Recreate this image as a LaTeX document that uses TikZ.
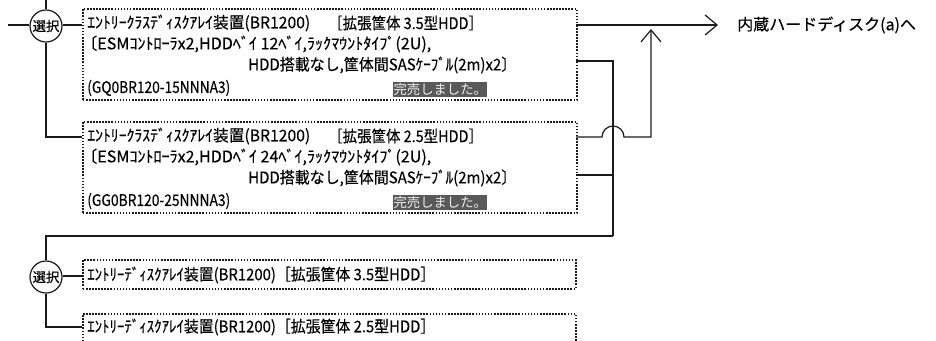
\documentclass[tikz,border=0pt]{standalone}
\usepackage{fontspec}
\usepackage{graphicx}
\setmainfont{Noto Sans CJK JP}
\newfontfamily\boxfont{Noto Sans CJK JP}[FakeBold=0.35]
\usetikzlibrary{arrows.meta}
\definecolor{ln}{HTML}{1A1A1A}
\definecolor{soldbg}{HTML}{595959}
\definecolor{soldfg}{HTML}{EEEEEE}
\newcommand{\fitw}[2]{\resizebox{#1}{\height}{#2}}
\begin{document}
\begin{tikzpicture}[x=0.75pt,y=-0.75pt,
  wire/.style={draw=ln, line width=0.9pt},
  dotbox/.style={draw=ln, line width=1.3pt, dash pattern=on 1.2pt off 1.1pt},
  txt/.style={anchor=west, inner sep=0pt, font=\boxfont\fontsize{12}{14}\selectfont, text=black},
  sel/.style={circle, draw=ln, line width=0.9pt, fill=white, minimum size=24pt, inner sep=0pt, font=\boxfont\fontsize{10}{12}\selectfont},
  sold/.style={anchor=west, fill=soldbg, text=soldfg, inner sep=0pt, minimum width=70.5pt, minimum height=11.25pt, font=\fontsize{10}{12}\selectfont},
  tip/.style={-{Straight Barb[length=9pt,width=15pt,line width=0.9pt]}},
  outlbl/.style={anchor=west, inner sep=0pt, font=\boxfont\fontsize{12}{14}\selectfont}]
\useasboundingbox (0,0) rectangle (936,340);
\clip (0,0) rectangle (936,340);

% boxes
\node[dotbox, anchor=north west, minimum width=370.5pt, minimum height=68.25pt] (box1) at (82,8) {};
\node[dotbox, anchor=north west, minimum width=370.5pt, minimum height=68.25pt] (box2) at (82,121) {};
\node[dotbox, anchor=north west, minimum width=369.75pt, minimum height=21.75pt] (box3) at (82,259) {};
\node[dotbox, anchor=north west, minimum width=369.75pt, minimum height=30pt] (box4) at (82,313) {};

% box 1 text
\node[txt] (t1a) at (87,23) {\fitw{167.25pt}{ｴﾝﾄﾘｰｸﾗｽﾃﾞｨｽｸｱﾚｲ装置(BR1200)}};
\node[txt] (t1b) at (328,23) {\fitw{116pt}{［拡張筐体 3.5型HDD］}};
\node[txt] (t1c) at (81,44) {\fitw{262.5pt}{〔ESMｺﾝﾄﾛｰﾗx2,HDDﾍﾞｲ 12ﾍﾞｲ,ﾗｯｸﾏｳﾝﾄﾀｲﾌﾟ(2U),}};
\node[txt] (t1d) at (248,65) {\fitw{201pt}{HDD搭載なし,筐体間SASｹｰﾌﾞﾙ(2m)x2〕}};
\node[txt] (t1e) at (87,88) {\fitw{107.25pt}{(GQ0BR120-15NNNA3)}};
\node[sold] (s1) at (393,89) {完売しました。};

% box 2 text
\node[txt] (t2a) at (87,136) {\fitw{167.25pt}{ｴﾝﾄﾘｰｸﾗｽﾃﾞｨｽｸｱﾚｲ装置(BR1200)}};
\node[txt] (t2b) at (328,136) {\fitw{116pt}{［拡張筐体 2.5型HDD］}};
\node[txt] (t2c) at (81,157) {\fitw{262.5pt}{〔ESMｺﾝﾄﾛｰﾗx2,HDDﾍﾞｲ 24ﾍﾞｲ,ﾗｯｸﾏｳﾝﾄﾀｲﾌﾟ(2U),}};
\node[txt] (t2d) at (248,178) {\fitw{201pt}{HDD搭載なし,筐体間SASｹｰﾌﾞﾙ(2m)x2〕}};
\node[txt] (t2e) at (87,201) {\fitw{107.25pt}{(GG0BR120-25NNNA3)}};
\node[sold] (s2) at (393,202) {完売しました。};

% box 3/4 text
\node[txt] (t3) at (87,275) {\fitw{261pt}{ｴﾝﾄﾘｰﾃﾞｨｽｸｱﾚｲ装置(BR1200)［拡張筐体 3.5型HDD］}};
\node[txt] (t4) at (87,327) {\fitw{261pt}{ｴﾝﾄﾘｰﾃﾞｨｽｸｱﾚｲ装置(BR1200)［拡張筐体 2.5型HDD］}};

% selection circles
\node[sel] (sel1) at (46,26) {選択};
\node[sel] (sel2) at (46,277) {選択};

% coordinates
\coordinate (in1) at (8,25);
\coordinate (top1) at (46,0);
\coordinate (j1) at (82,25);
\coordinate (j2) at (82,137);
\coordinate (j3) at (82,276);
\coordinate (j4) at (82,327);
\coordinate (o1) at (576,25);
\coordinate (o2) at (576,61);
\coordinate (o3) at (576,137);
\coordinate (o4) at (576,175);
\coordinate (outtip) at (718,25);
\coordinate (bus) at (613,236);
\coordinate (hopL) at (602,137);
\coordinate (upx) at (651,137);
\coordinate (uptip) at (651,29);

\node[outlbl] (out) at (737,25) {内蔵ハードディスク(a)へ};

% connectors
\draw[wire] (in1) -- (in1 -| sel1.west);
\draw[wire] (top1) -- (sel1.north);
\draw[wire] (j1 -| sel1.east) -- (j1);
\draw[wire] (sel1.south) |- (j2);
\draw[wire, tip] (o1) -- (outtip);
\draw[wire] (o2) -| (bus);
\draw[wire] (o4) -- (o4 -| bus);
\draw[wire] (bus) -| (sel2.north);
\draw[wire, tip] (o3) -- (hopL) arc[start angle=180, end angle=0, radius=8.25pt] -- (upx) -- (uptip);
\draw[wire] (j3 -| sel2.east) -- (j3);
\draw[wire] (sel2.south) |- (j4);
\end{tikzpicture}
\end{document}
